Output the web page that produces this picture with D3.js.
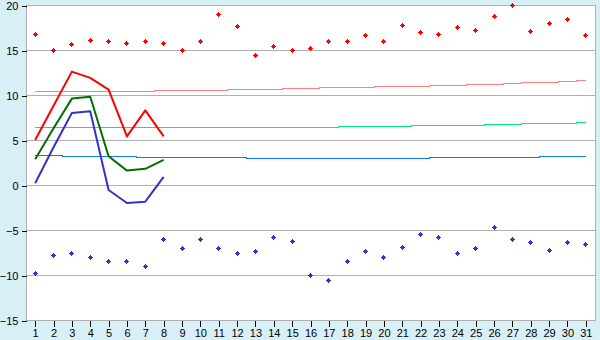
<!DOCTYPE html>
<html>
<head>
<meta charset="utf-8">
<script src="https://cdn.jsdelivr.net/npm/d3@7"></script>
<style>
  body { margin: 0; background: #d9eff6; }
  svg { display: block; }
  .tick text { font-family: "Liberation Sans", Arial, sans-serif; font-size: 11px; fill: #000; }
</style>
</head>
<body>
<div class="chart"></div>
<script>
// days of the month
var days = d3.range(1, 32);

// observed daily values (first 8 days only)
var maxTemp = [5.0, 8.8, 12.6, 11.9, 10.6, 5.4, 8.3, 5.4];
var meanTemp = [2.85, 6.3, 9.6, 9.8, 3.2, 1.6, 1.8, 2.8];
var minTemp = [0.2, 4.2, 8.0, 8.2, -0.55, -2.0, -1.85, 0.9];

// normals per day
var normMax = [10.44, 10.44, 10.44, 10.44, 10.44, 10.44, 10.44, 10.56, 10.56, 10.56,
	10.56, 10.67, 10.67, 10.67, 10.78, 10.78, 10.89, 10.89, 10.89, 11.0,
	11.0, 11.0, 11.11, 11.11, 11.22, 11.22, 11.33, 11.44, 11.44, 11.56, 11.67];
var normMean = [6.44, 6.44, 6.44, 6.44, 6.44, 6.44, 6.44, 6.44, 6.44, 6.44,
	6.44, 6.44, 6.44, 6.44, 6.44, 6.44, 6.44, 6.56, 6.56, 6.56,
	6.56, 6.67, 6.67, 6.67, 6.67, 6.78, 6.78, 6.89, 6.89, 6.89, 7.0];
var normMin = [3.33, 3.33, 3.22, 3.22, 3.22, 3.22, 3.11, 3.11, 3.11, 3.11,
	3.11, 3.11, 3.0, 3.0, 3.0, 3.0, 3.0, 3.0, 3.0, 3.0,
	3.0, 3.0, 3.11, 3.11, 3.11, 3.11, 3.11, 3.11, 3.22, 3.22, 3.22];

// records per day
var recMax = [16.7, 15.0, 15.6, 16.1, 16.0, 15.7, 16.0, 15.7, 15.0, 16.0,
	19.0, 17.6, 14.4, 15.4, 15.0, 15.2, 15.9, 16.0, 16.6, 16.0,
	17.7, 17.0, 16.7, 17.5, 17.2, 18.7, 20.0, 17.1, 18.0, 18.4, 16.6];
var recMin = [-9.8, -7.8, -7.6, -8.0, -8.5, -8.5, -9.1, -6.0, -7.0, -6.0,
	-7.0, -7.6, -7.4, -5.8, -6.3, -10.0, -10.6, -8.5, -7.4, -8.1,
	-6.9, -5.5, -5.8, -7.6, -7.0, -4.7, -6.0, -6.4, -7.3, -6.4, -6.6];

var yTicks = [-15, -10, -5, 0, 5, 10, 15, 20];

var svg_w = 600, svg_h = 340;
var plotL = 26, plotR = 595, plotT = 5, plotB = 320;

var svg = d3.select("div.chart").append("svg")
	.attr("width", svg_w)
	.attr("height", svg_h);

var x = d3.scaleLinear().domain([0.5, 31.5]).range([plotL, plotR]);
var y = d3.scaleLinear().domain([-15, 20]).range([plotB, plotT]);

// plot background
svg.append("rect")
	.attr("x", plotL).attr("y", plotT)
	.attr("width", plotR - plotL).attr("height", plotB - plotT)
	.attr("fill", "#fff");

// grid lines
svg.append("g").selectAll("line")
	.data(yTicks)
	.enter()
	.append("line")
	.attr("x1", plotL).attr("x2", plotR)
	.attr("y1", function(d) { return Math.round(y(d)) + 0.5; })
	.attr("y2", function(d) { return Math.round(y(d)) + 0.5; })
	.attr("stroke", "#b0b0b0")
	.attr("shape-rendering", "crispEdges");

// frame left / right
svg.append("line")
	.attr("x1", plotL + 0.5).attr("x2", plotL + 0.5)
	.attr("y1", plotT).attr("y2", plotB + 1)
	.attr("stroke", "#b0b0b0").attr("shape-rendering", "crispEdges");
svg.append("line")
	.attr("x1", plotR + 0.5).attr("x2", plotR + 0.5)
	.attr("y1", plotT).attr("y2", plotB + 1)
	.attr("stroke", "#b0b0b0").attr("shape-rendering", "crispEdges");

// axes
var yAxis = d3.axisLeft(y).tickValues(yTicks).tickSize(5).tickPadding(3)
	.tickFormat(function(d) { return d < 0 ? "\u2212" + Math.abs(d) : d; });
var gy = svg.append("g")
	.attr("transform", "translate(" + (plotL + 0.5) + ",0.5)")
	.call(yAxis);
gy.select(".domain").remove();
gy.selectAll("line").attr("stroke", "#000").attr("shape-rendering", "crispEdges");

var xAxis = d3.axisBottom(x).tickValues(days).tickSize(6).tickPadding(3);
var gx = svg.append("g")
	.attr("transform", "translate(0," + (plotB + 0.5) + ")")
	.call(xAxis);
gx.select(".domain").remove();
gx.selectAll("line").attr("stroke", "#000").attr("shape-rendering", "crispEdges");

// normals (step lines)
function stepLine(values) {
	return d3.line()
		.x(function(d, i) { return x(days[i]); })
		.y(function(d) { return Math.round(y(d)) + 0.5; })
		.curve(d3.curveStep)(values);
}
var normals = [[normMax, "#ff8080"], [normMean, "#00ee77"], [normMin, "#0a7ef0"]];
normals.forEach(function(n) {
	svg.append("path")
		.attr("d", stepLine(n[0]))
		.attr("fill", "none")
		.attr("stroke", n[1])
		.attr("stroke-width", 1)
		.attr("shape-rendering", "crispEdges");
});

// observed lines
var line = d3.line()
	.x(function(d, i) { return x(days[i]); })
	.y(function(d) { return y(d); });
var series = [[maxTemp, "#ff0000"], [meanTemp, "#007000"], [minTemp, "#3333cc"]];
series.forEach(function(s) {
	svg.append("path")
		.attr("d", line(s[0]))
		.attr("fill", "none")
		.attr("stroke", s[1])
		.attr("stroke-width", 2)
		.attr("stroke-linejoin", "round");
});

// record markers
var marker = "M-0.5,-2.5h1v1h1v1h1v1h-1v1h-1v1h-1v-1h-1v-1h-1v-1h1v-1h1z";
function drawMarks(values, color) {
	svg.append("g").selectAll("path")
		.data(values)
		.enter()
		.append("path")
		.attr("d", marker)
		.attr("fill", color)
		.attr("shape-rendering", "crispEdges")
		.attr("transform", function(d, i) {
			return "translate(" + (Math.floor(x(days[i])) + 0.5) + "," + (Math.floor(y(d)) + 0.5) + ")";
		});
}
drawMarks(recMax, "#ff0000");
drawMarks(recMin, "#3333cc");
</script>
</body>
</html>
